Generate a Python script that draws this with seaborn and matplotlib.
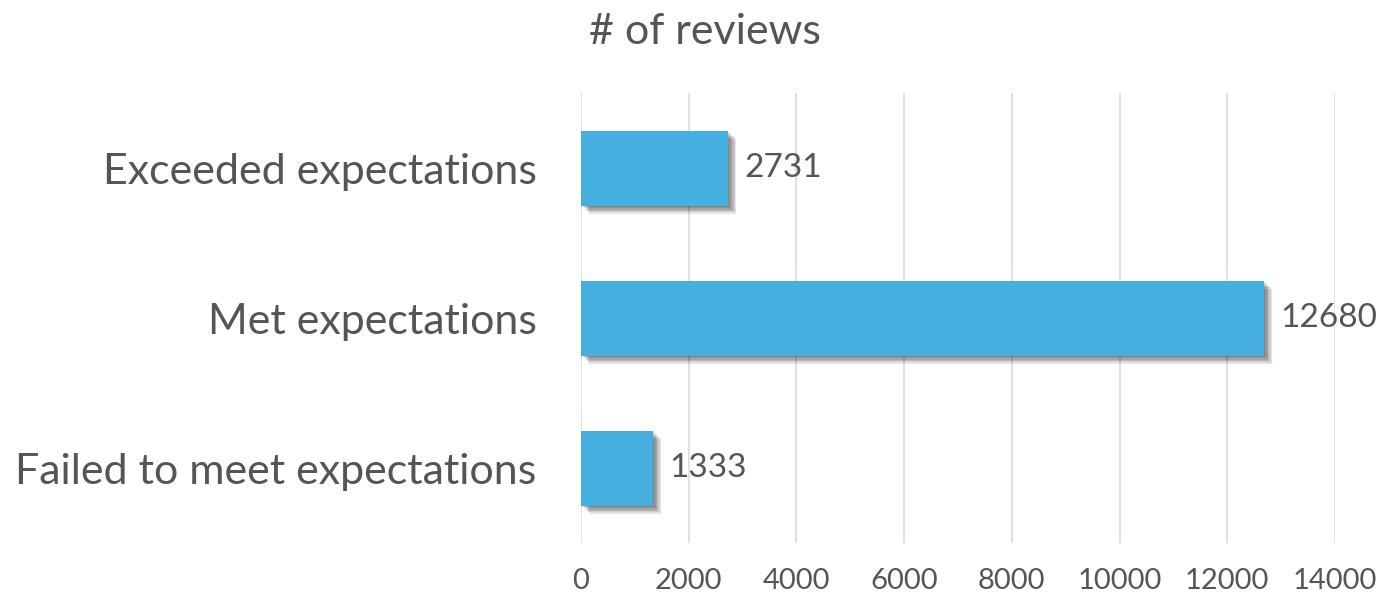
import pandas as pd
import matplotlib
matplotlib.use("Agg")
import matplotlib.pyplot as plt
import matplotlib.patheffects as pe
import seaborn as sns

categories = ["Exceeded expectations", "Met expectations", "Failed to meet expectations"]
reviews = [2731, 12680, 1333]
xticks = [0, 2000, 4000, 6000, 8000, 10000, 12000, 14000]

data = pd.DataFrame({"category": categories, "reviews": reviews})

sns.set_style("white")
plt.rcParams["font.family"] = ["Lato", "DejaVu Sans"]

text_color = "#555555"
bar_color = "#45AFE0"

fig = plt.figure(figsize=(13.87, 5.99), dpi=100)
ax = fig.add_axes([581 / 1387, 1 - 543 / 599, (1335 - 581) / 1387, 450 / 599])

sns.barplot(data=data, x="reviews", y="category", orient="h", color=bar_color,
            width=0.5, saturation=1, linewidth=0, ax=ax)

# soft drop shadow, built from a few stacked offsets
shadow = [pe.SimplePatchShadow(offset=(o, -o), alpha=0.1, shadow_rgbFace="#000000")
          for o in (1, 2, 3, 4, 5, 6)]
for bar in ax.patches:
    bar.set_edgecolor("none")
    bar.set_path_effects(shadow + [pe.Normal()])
    bar.set_zorder(3)

for i, v in enumerate(reviews):
    ax.text(v + 300, i, str(v), va="center", ha="left", fontsize=24, color=text_color)

ax.set_xlim(0, 14000)
ax.set_ylim(2.5, -0.5)
ax.set_xticks(xticks)
ax.set_xticklabels([str(t) for t in xticks])
ax.grid(axis="x", color="#DADADA", linewidth=1.2, zorder=0)
ax.set_axisbelow(True)
ax.tick_params(axis="x", labelsize=21, colors=text_color, length=0, pad=18)
ax.tick_params(axis="y", labelsize=31, colors=text_color, length=0, pad=32)
ax.set_xlabel("")
ax.set_ylabel("")
for s in ax.spines.values():
    s.set_visible(False)

fig.text(705 / 1387, 1 - 32 / 599, "# of reviews", ha="center", va="center",
         fontsize=31, color=text_color)

fig.savefig("out.png", dpi=100)
